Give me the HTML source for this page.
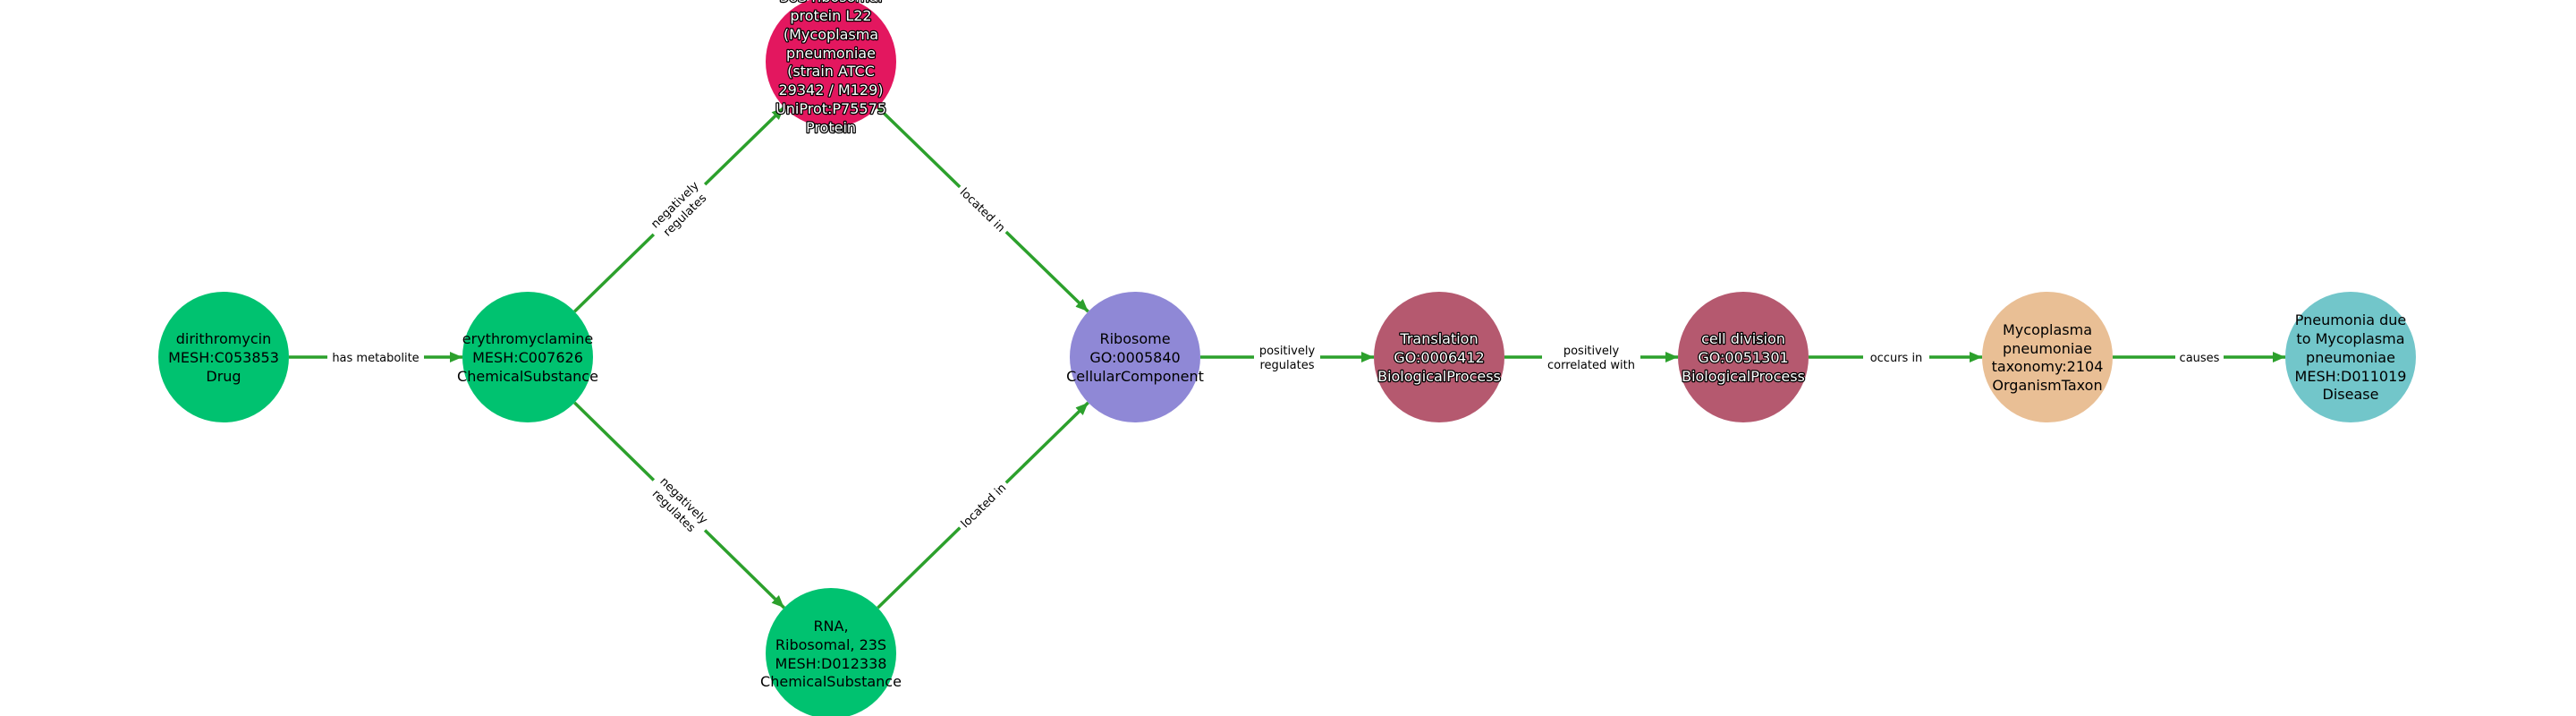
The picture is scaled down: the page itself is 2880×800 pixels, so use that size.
<!DOCTYPE html>
<html><head><meta charset="utf-8"><style>
html,body{margin:0;padding:0;background:#fff;}
svg{display:block;}
text{font-family:"DejaVu Sans","Liberation Sans",sans-serif;}
.n{font-size:16px;text-anchor:middle;fill:#000;}
.w{font-size:16px;text-anchor:middle;fill:#fff;stroke:#000;stroke-width:2.5px;paint-order:stroke;stroke-linejoin:round;}
.e{font-size:13px;text-anchor:middle;fill:#000;}
line{stroke:#2ca02c;stroke-width:3.5;}
</style></head><body>
<svg width="2880" height="800" viewBox="0 0 2880 800" xmlns="http://www.w3.org/2000/svg">
<defs>
<marker id="a" markerUnits="userSpaceOnUse" markerWidth="16" markerHeight="12" refX="14" refY="6" orient="auto">
<path d="M0,0 L14,6 L0,12 z" fill="#2ca02c"/>
</marker>
</defs>
<!-- edges -->
<line x1="323" y1="399" x2="517" y2="399" marker-end="url(#a)"/>
<line x1="642.3" y1="348.1" x2="876.7" y2="119.9" marker-end="url(#a)"/>
<line x1="642.3" y1="449.9" x2="876.7" y2="679.1" marker-end="url(#a)"/>
<line x1="981.4" y1="119.9" x2="1216.6" y2="348.1" marker-end="url(#a)"/>
<line x1="981.4" y1="679.1" x2="1216.6" y2="449.9" marker-end="url(#a)"/>
<line x1="1342" y1="399" x2="1536" y2="399" marker-end="url(#a)"/>
<line x1="1682" y1="399" x2="1876" y2="399" marker-end="url(#a)"/>
<line x1="2022" y1="399" x2="2216" y2="399" marker-end="url(#a)"/>
<line x1="2362" y1="399" x2="2555" y2="399" marker-end="url(#a)"/>
<!-- edge labels -->
<rect x="366" y="389" width="108" height="20" fill="#fff"/>
<text class="e" x="420" y="404">has metabolite</text>
<g transform="translate(759.5,234) rotate(-44.2)"><rect x="-40" y="-18" width="80" height="36" fill="#fff"/>
<text class="e" x="0" y="-3">negatively</text><text class="e" x="0" y="13">regulates</text></g>
<g transform="translate(759.5,564.5) rotate(44.3)"><rect x="-40" y="-18" width="80" height="36" fill="#fff"/>
<text class="e" x="0" y="-3">negatively</text><text class="e" x="0" y="13">regulates</text></g>
<g transform="translate(1099,234) rotate(44.1)"><rect x="-36" y="-10" width="72" height="20" fill="#fff"/>
<text class="e" x="0" y="5">located in</text></g>
<g transform="translate(1099,564.5) rotate(-44.2)"><rect x="-36" y="-10" width="72" height="20" fill="#fff"/>
<text class="e" x="0" y="5">located in</text></g>
<rect x="1402" y="381" width="74" height="36" fill="#fff"/>
<text class="e" x="1439" y="396">positively</text><text class="e" x="1439" y="412">regulates</text>
<rect x="1724" y="381" width="110" height="36" fill="#fff"/>
<text class="e" x="1779" y="396">positively</text><text class="e" x="1779" y="412">correlated with</text>
<rect x="2083" y="389" width="74" height="20" fill="#fff"/>
<text class="e" x="2120" y="404">occurs in</text>
<rect x="2432" y="389" width="54" height="20" fill="#fff"/>
<text class="e" x="2459" y="404">causes</text>
<!-- nodes -->
<circle cx="250" cy="399" r="73" fill="#00c270"/>
<text class="n" x="250" y="384">dirithromycin</text><text class="n" x="250" y="405">MESH:C053853</text><text class="n" x="250" y="426">Drug</text>
<circle cx="590" cy="399" r="73" fill="#00c270"/>
<text class="n" x="590" y="384">erythromyclamine</text><text class="n" x="590" y="405">MESH:C007626</text><text class="n" x="590" y="426">ChemicalSubstance</text>
<circle cx="929" cy="69" r="73" fill="#e3175f"/>
<text class="w" x="929" y="2">50S ribosomal</text><text class="w" x="929" y="23">protein L22</text><text class="w" x="929" y="44">(Mycoplasma</text><text class="w" x="929" y="65">pneumoniae</text><text class="w" x="929" y="85">(strain ATCC</text><text class="w" x="929" y="106">29342 / M129)</text><text class="w" x="929" y="127">UniProt:P75575</text><text class="w" x="929" y="148">Protein</text>
<circle cx="929" cy="730" r="73" fill="#00c270"/>
<text class="n" x="929" y="705">RNA,</text><text class="n" x="929" y="726">Ribosomal, 23S</text><text class="n" x="929" y="747">MESH:D012338</text><text class="n" x="929" y="767">ChemicalSubstance</text>
<circle cx="1269" cy="399" r="73" fill="#8f88d6"/>
<text class="n" x="1269" y="384">Ribosome</text><text class="n" x="1269" y="405">GO:0005840</text><text class="n" x="1269" y="426">CellularComponent</text>
<circle cx="1609" cy="399" r="73" fill="#b5596f"/>
<text class="w" x="1609" y="384">Translation</text><text class="w" x="1609" y="405">GO:0006412</text><text class="w" x="1609" y="426">BiologicalProcess</text>
<circle cx="1949" cy="399" r="73" fill="#b5596f"/>
<text class="w" x="1949" y="384">cell division</text><text class="w" x="1949" y="405">GO:0051301</text><text class="w" x="1949" y="426">BiologicalProcess</text>
<circle cx="2289" cy="399" r="73" fill="#e9bf95"/>
<text class="n" x="2289" y="374">Mycoplasma</text><text class="n" x="2289" y="395">pneumoniae</text><text class="n" x="2289" y="415">taxonomy:2104</text><text class="n" x="2289" y="436">OrganismTaxon</text>
<circle cx="2628" cy="399" r="73" fill="#72c6ca"/>
<text class="n" x="2628" y="363">Pneumonia due</text><text class="n" x="2628" y="384">to Mycoplasma</text><text class="n" x="2628" y="405">pneumoniae</text><text class="n" x="2628" y="426">MESH:D011019</text><text class="n" x="2628" y="446">Disease</text>
</svg>
</body></html>
